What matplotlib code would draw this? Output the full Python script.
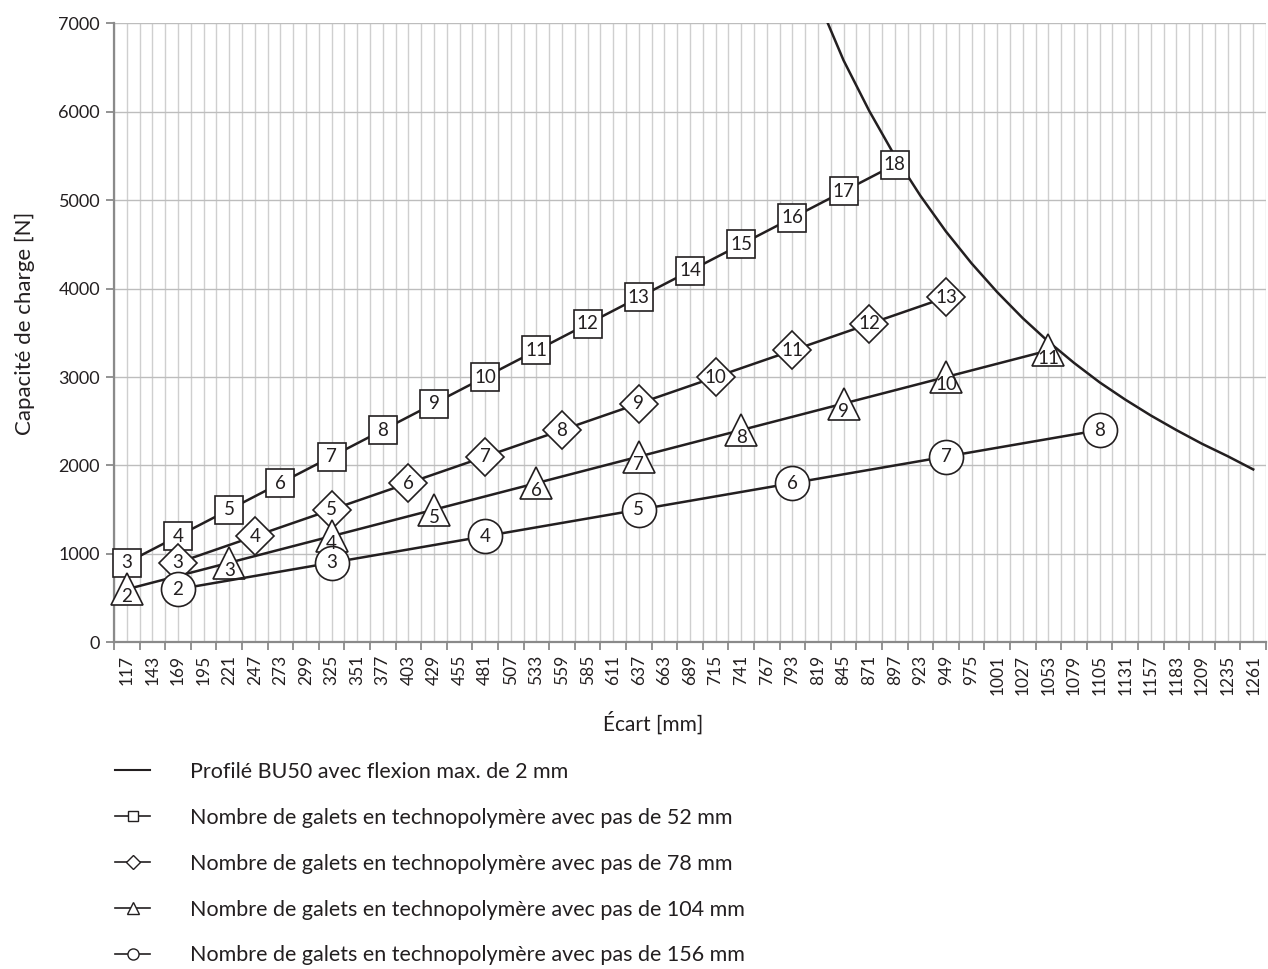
import matplotlib
matplotlib.use("Agg")
import matplotlib.pyplot as plt
from matplotlib.lines import Line2D

plt.rcParams['font.family'] = ['Lato', 'DejaVu Sans']

# Category axis: spacings in mm
x_categories = list(range(117, 1262, 26))

# Deflection limit of the BU50 profile (2 mm max.)
curve_x = [829, 845, 871, 897, 923, 949, 975, 1001, 1027, 1053, 1079, 1105,
           1131, 1157, 1183, 1209, 1235, 1261]
curve_y = [7000, 6580, 6010, 5500, 5050, 4645, 4285, 3960, 3665, 3400, 3160,
           2940, 2745, 2565, 2400, 2245, 2105, 1955]

# Rollers with 52 mm pitch
sq_x = [117, 169, 221, 273, 325, 377, 429, 481, 533, 585, 637, 689, 741, 793, 845, 897]
sq_y = [900, 1200, 1500, 1800, 2100, 2400, 2700, 3000, 3300, 3600, 3900, 4200,
        4500, 4800, 5100, 5400]
sq_n = [3, 4, 5, 6, 7, 8, 9, 10, 11, 12, 13, 14, 15, 16, 17, 18]

# Rollers with 78 mm pitch
di_x = [169, 247, 325, 403, 481, 559, 637, 715, 793, 871, 949]
di_y = [900, 1200, 1500, 1800, 2100, 2400, 2700, 3000, 3300, 3600, 3900]
di_n = [3, 4, 5, 6, 7, 8, 9, 10, 11, 12, 13]

# Rollers with 104 mm pitch
tr_x = [117, 221, 325, 429, 533, 637, 741, 845, 949, 1053]
tr_y = [600, 900, 1200, 1500, 1800, 2100, 2400, 2700, 3000, 3300]
tr_n = [2, 3, 4, 5, 6, 7, 8, 9, 10, 11]

# Rollers with 156 mm pitch
ci_x = [169, 325, 481, 637, 793, 949, 1105]
ci_y = [600, 900, 1200, 1500, 1800, 2100, 2400]
ci_n = [2, 3, 4, 5, 6, 7, 8]

legend_labels = [
    "Profilé BU50 avec flexion max. de 2 mm",
    "Nombre de galets en technopolymère avec pas de 52 mm",
    "Nombre de galets en technopolymère avec pas de 78 mm",
    "Nombre de galets en technopolymère avec pas de 104 mm",
    "Nombre de galets en technopolymère avec pas de 156 mm",
]

INK = "#231f20"
GRID = "#cfcfcf"
AXIS = "#8a8a8a"

fig = plt.figure(figsize=(12.68, 9.69), dpi=100)
ax = fig.add_axes([114 / 1268, 1 - 642.3 / 969, 1152 / 1268, (642.3 - 23.3) / 969])

half = 13
ax.set_xlim(x_categories[0] - half, x_categories[-1] + half)
ax.set_ylim(0, 7000)

ax.set_xticks(x_categories)
ax.set_xticklabels([str(v) for v in x_categories], rotation=90)
ax.set_xticks([v - half for v in x_categories] + [x_categories[-1] + half], minor=True)
ax.tick_params(axis='x', which='major', length=0, pad=9, labelsize=12.5, labelcolor=INK)
ax.tick_params(axis='x', which='minor', length=6, width=1.3, color=AXIS)
ax.set_yticks(range(0, 7001, 1000))
ax.tick_params(axis='y', length=6, width=1.3, color=AXIS, labelsize=13, labelcolor=INK, pad=4)

ax.grid(True, axis='x', which='both', color=GRID, linewidth=1.0, zorder=0)
ax.grid(True, axis='y', which='major', color="#bdbdbd", linewidth=1.0, zorder=0)
ax.set_axisbelow(True)
for s in ("top", "right"):
    ax.spines[s].set_visible(False)
for s in ("left", "bottom"):
    ax.spines[s].set_color(AXIS)
    ax.spines[s].set_linewidth(1.6)

ax.set_ylabel("Capacité de charge [N]", fontsize=16, color=INK, va="center")
ax.yaxis.set_label_coords(-0.077, 0.515)
ax.set_xlabel("Écart [mm]", fontsize=15, color=INK, va="center")
ax.xaxis.set_label_coords(0.468, -0.130)

ax.plot(curve_x, curve_y, color=INK, linewidth=1.8, zorder=2, clip_on=True)

series = [
    (sq_x, sq_y, sq_n, 's', 19.5, 0),
    (di_x, di_y, di_n, 'D', 19, 0),
    (tr_x, tr_y, tr_n, '^', 23, -5.5),
    (ci_x, ci_y, ci_n, 'o', 24.5, 0),
]
for xs, ys, ns, mk, ms, dy in series:
    ax.plot(xs, ys, color=INK, linewidth=1.8, marker=mk, markersize=ms,
            markerfacecolor="white", markeredgecolor=INK, markeredgewidth=1.2,
            zorder=3, clip_on=False)
    for x, y, n in zip(xs, ys, ns):
        ax.annotate(str(n), (x, y), xytext=(0, dy), textcoords="offset points",
                    ha="center", va="center", fontsize=13.5, color=INK, zorder=4)

handles = [
    Line2D([], [], color=INK, linewidth=1.5),
    Line2D([], [], color=INK, linewidth=1.2, marker='s', markersize=7,
           markerfacecolor="white", markeredgewidth=1.0),
    Line2D([], [], color=INK, linewidth=1.2, marker='D', markersize=7,
           markerfacecolor="white", markeredgewidth=1.0),
    Line2D([], [], color=INK, linewidth=1.2, marker='^', markersize=8,
           markerfacecolor="white", markeredgewidth=1.0),
    Line2D([], [], color=INK, linewidth=1.2, marker='o', markersize=8,
           markerfacecolor="white", markeredgewidth=1.0),
]
leg = fig.legend(handles, legend_labels, loc="upper left",
                 bbox_to_anchor=(115 / 1268, 1 - 762 / 969),
                 frameon=False, fontsize=15.5, handlelength=1.63, handletextpad=1.86,
                 labelspacing=1.2, borderpad=0, borderaxespad=0)
for t in leg.get_texts():
    t.set_color(INK)

fig.savefig("out.png", dpi=100)
